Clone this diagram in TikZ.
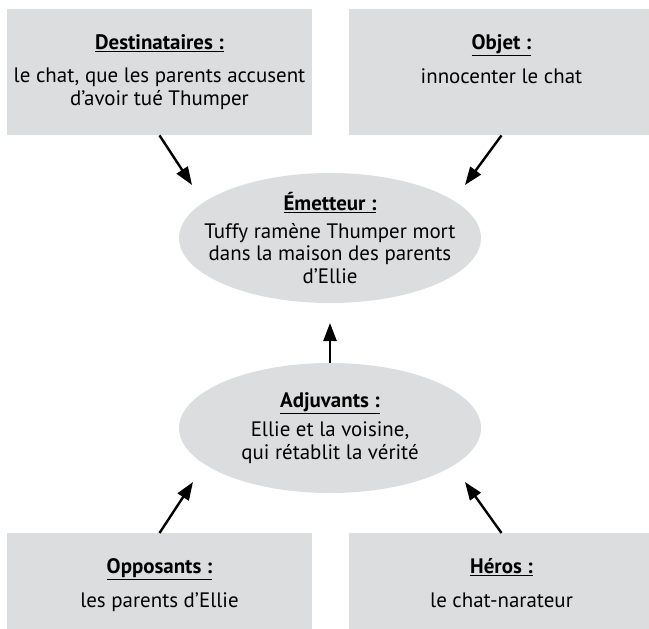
\documentclass[tikz,border=0pt]{standalone}
\usepackage{fontspec}
\setmainfont{PT Sans}
\usetikzlibrary{arrows.meta, positioning, shapes.geometric}
\definecolor{panelgray}{RGB}{220,221,223}

\newcommand{\titre}[1]{\underline{\textbf{#1}}}
\newcommand{\rolebox}[2]{\begin{minipage}[t][126bp][t]{305bp}\centering
  \vspace*{25bp}\titre{#1}\\[11bp] #2\end{minipage}}

\begin{document}
\begin{tikzpicture}[x=1bp,y=-1bp,font=\fontsize{21}{23}\selectfont]
  \tikzset{role/.style={rectangle,fill=panelgray,inner sep=0pt,anchor=north},
    actant/.style={ellipse,fill=panelgray,inner sep=-40bp,minimum width=302bp,
      minimum height=130bp,align=center},
    fleche/.style={-{Triangle[length=18bp,width=13bp]},line width=2.4bp}}

  \useasboundingbox (0,0) rectangle (649,629);
  \clip (0,0) rectangle (649,629);

  \node[role] (destinataires) at (159.5,9)
    {\rolebox{Destinataires :}{le chat, que les parents accusent\\d’avoir tué Thumper}};
  \node[role] (objet) at (501.5,9)
    {\rolebox{Objet :}{innocenter le chat}};
  \node[actant] (emetteur) at (330,238)
    {\titre{Émetteur :}\\[5bp]Tuffy ramène Thumper mort\\dans la maison des parents\\d’Ellie};
  \node[actant] (adjuvants) at (330,428)
    {\titre{Adjuvants :}\\[6bp]Ellie et la voisine,\\qui rétablit la vérité};
  \node[role] (opposants) at (159.5,533)
    {\rolebox{Opposants :}{les parents d’Ellie}};
  \node[role] (heros) at (501.5,533)
    {\rolebox{Héros :}{le chat-narateur}};

  % free ends of the arrows
  \coordinate (versA) at (192,185);
  \coordinate (versB) at (465,185);
  \coordinate (versC) at (330,323);
  \coordinate (versD) at (193,482);
  \coordinate (versE) at (465,482);

  \draw[fleche] (destinataires.south) -- (versA);
  \draw[fleche] (objet.south) -- (versB);
  \draw[fleche] (adjuvants.north) -- (versC);
  \draw[fleche] (opposants.north) -- (versD);
  \draw[fleche] (heros.north) -- (versE);
\end{tikzpicture}
\end{document}
